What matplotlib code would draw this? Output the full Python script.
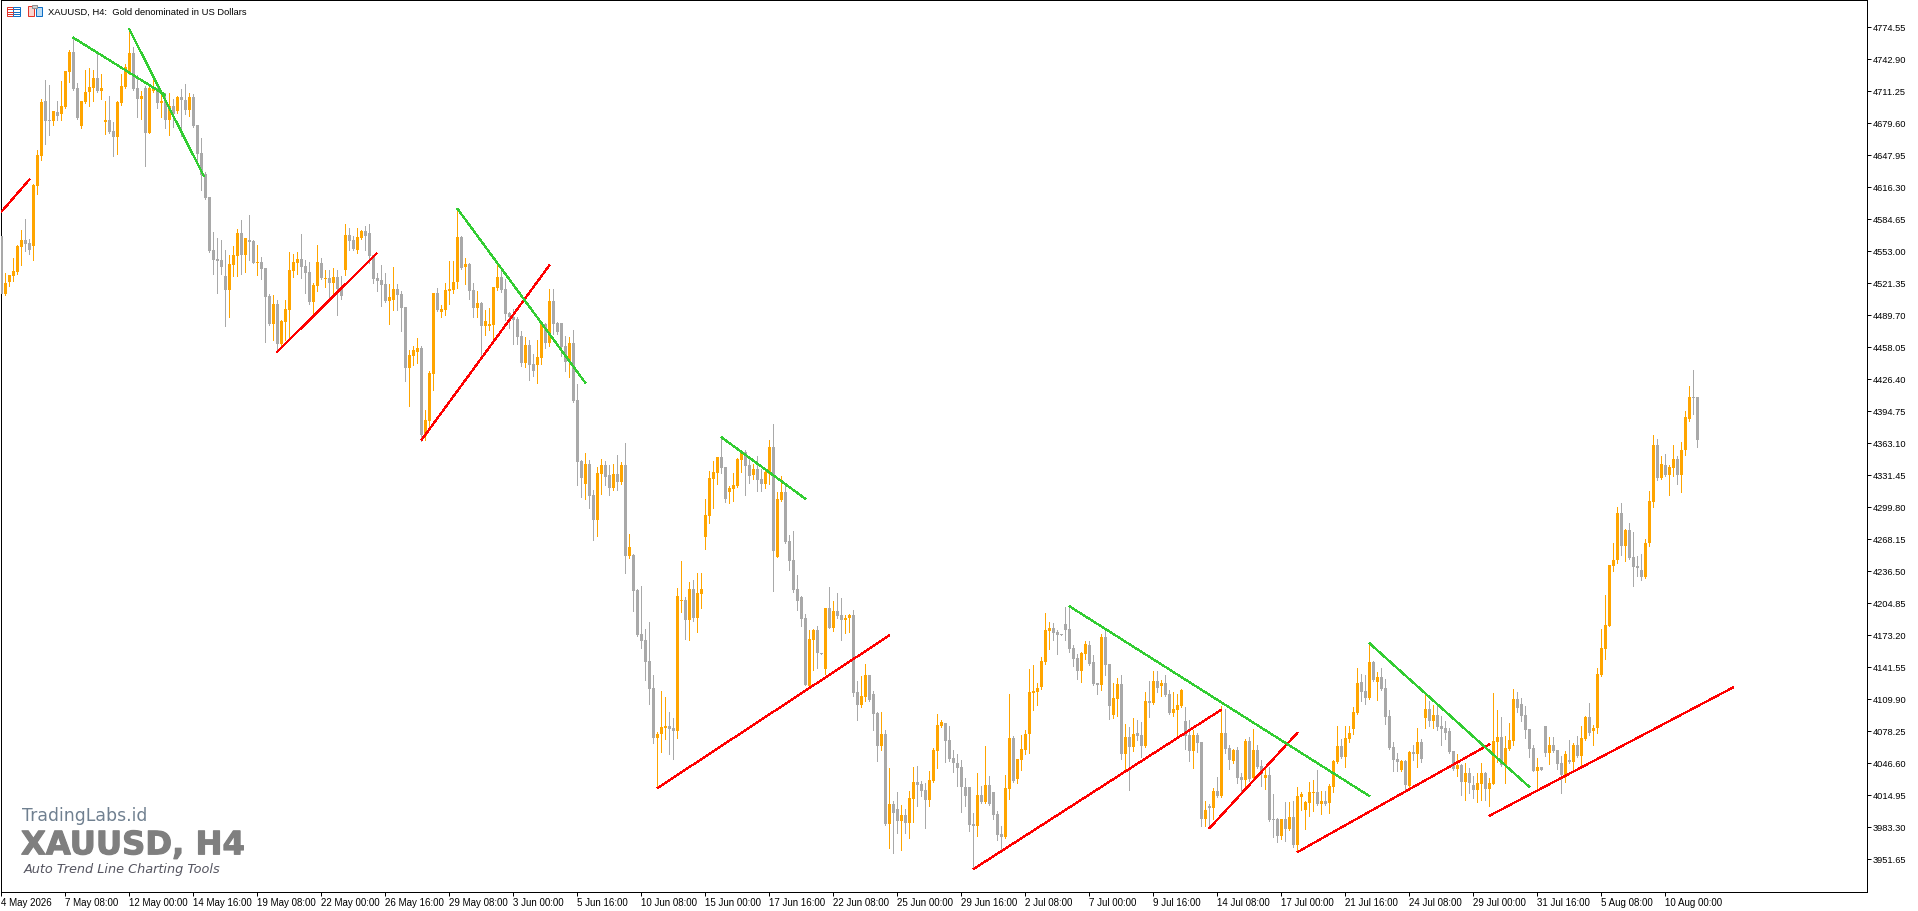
import numpy as np
import matplotlib
matplotlib.use('Agg')
import matplotlib.pyplot as plt
from matplotlib.patches import Rectangle
import matplotlib.patheffects as pe

# candles, 4 hour bars
opens = [4569,4511,4523,4529,4533,4558,4565,4562,4559,4618,
4648,4702,4684,4683,4691,4689,4696,4731,4751,4715,
4678,4701,4711,4715,4725,4712,4682,4684,4673,4667,
4700,4716,4731,4750,4715,4704,4715,4671,4712,4715,
4700,4702,4684,4697,4692,4706,4703,4693,4706,4679,
4651,4630,4607,4555,4546,4545,4529,4515,4540,4549,
4572,4550,4565,4564,4542,4543,4537,4509,4482,4502,
4462,4484,4496,4534,4542,4546,4539,4533,4504,4519,
4542,4526,4527,4522,4528,4517,4535,4570,4565,4555,
4567,4574,4572,4550,4527,4525,4521,4505,4506,4516,
4511,4499,4438,4450,4454,4458,4371,4386,4432,4512,
4494,4496,4514,4515,4523,4568,4538,4541,4515,4498,
4503,4480,4480,4481,4517,4528,4516,4493,4489,4487,
4470,4443,4461,4442,4441,4448,4482,4463,4505,4483,
4483,4460,4444,4463,4407,4346,4324,4343,4313,4288,
4333,4342,4332,4320,4333,4326,4342,4252,4253,4219,
4175,4169,4148,4122,4072,4076,4082,4084,4082,4079,
4208,4209,4189,4220,4191,4215,4271,4292,4328,4334,
4350,4340,4316,4319,4322,4347,4355,4342,4332,4338,
4328,4324,4333,4360,4251,4308,4316,4267,4248,4220,
4212,4191,4124,4169,4179,4156,4141,4201,4181,4198,
4194,4189,4191,4194,4118,4105,4113,4135,4116,4097,
4064,4076,3987,4007,4002,3990,3996,3988,4012,4029,
4027,4021,4011,4030,4059,4084,4087,4070,4053,4048,
4044,4024,4024,3987,3985,4016,4009,4026,4019,3997,
3977,3974,4022,4072,4032,4051,4060,4076,4117,4118,
4123,4147,4178,4181,4177,4175,4185,4180,4161,4151,
4139,4155,4164,4147,4127,4125,4172,4146,4095,4111,
4126,4056,4073,4063,4077,4075,4064,4109,4107,4129,
4124,4127,4116,4097,4100,4104,4089,4075,4059,4075,
4068,3992,4005,4003,4020,4015,4077,4062,4050,4060,
4034,4031,4069,4033,4060,4045,4033,4036,3992,3992,
3975,3992,3982,3994,3966,4014,4001,4008,4018,4019,
4007,4010,4008,4024,4049,4064,4054,4071,4081,4097,
4128,4119,4112,4147,4128,4133,4122,4094,4063,4052,
4041,4050,4025,4058,4056,4068,4092,4101,4089,4095,
4084,4082,4079,4059,4042,4046,4029,4038,4026,4021,
4027,4038,4022,4027,4068,4073,4045,4061,4069,4111,
4106,4095,4081,4062,4040,4044,4084,4057,4065,4060,
4048,4036,4051,4049,4065,4055,4071,4093,4079,4082,
4135,4160,4183,4242,4248,4295,4262,4278,4251,4242,
4238,4232,4265,4306,4362,4329,4342,4332,4339,4348,
4332,4357,4388,4410,4410]

closes = [4511,4522,4530,4534,4559,4565,4561,4555,4619,4649,
4701,4683,4683,4692,4688,4697,4732,4751,4714,4686,
4702,4711,4716,4725,4712,4715,4684,4672,4667,4701,
4717,4736,4750,4714,4704,4707,4671,4715,4715,4700,
4702,4684,4697,4689,4706,4703,4693,4706,4678,4650,
4629,4606,4554,4545,4544,4538,4515,4541,4550,4572,
4550,4567,4563,4542,4543,4536,4508,4482,4502,4462,
4485,4497,4535,4543,4546,4538,4532,4504,4520,4543,
4527,4527,4522,4528,4516,4509,4570,4564,4556,4568,
4574,4569,4549,4526,4524,4520,4505,4508,4516,4510,
4498,4438,4451,4456,4458,4372,4387,4433,4512,4496,
4497,4515,4516,4523,4568,4537,4541,4514,4498,4503,
4480,4485,4482,4518,4528,4515,4492,4489,4486,4469,
4443,4461,4441,4435,4449,4483,4463,4505,4482,4474,
4459,4444,4463,4406,4345,4329,4343,4312,4288,4334,
4342,4330,4320,4333,4326,4342,4252,4261,4218,4174,
4168,4147,4121,4072,4076,4083,4084,4081,4079,4213,
4209,4189,4220,4191,4216,4220,4293,4329,4335,4350,
4339,4309,4320,4323,4348,4355,4341,4331,4338,4327,
4324,4335,4360,4257,4309,4316,4266,4247,4219,4208,
4190,4125,4170,4179,4156,4155,4201,4181,4198,4193,
4189,4191,4194,4117,4105,4114,4135,4110,4096,4064,
4076,3987,4007,3998,3990,3996,3988,4013,4029,4026,
4020,4011,4031,4060,4085,4088,4069,4052,4048,4043,
4024,4015,3986,3985,4016,4009,4026,4007,3996,3976,
3974,4023,4072,4030,4052,4061,4076,4118,4119,4122,
4148,4179,4181,4176,4174,4174,4179,4160,4150,4139,
4156,4165,4146,4126,4125,4172,4145,4104,4112,4126,
4056,4073,4063,4076,4074,4064,4109,4107,4129,4122,
4127,4115,4097,4101,4105,4120,4074,4059,4075,4067,
3992,4001,4003,4020,4015,4077,4061,4051,4060,4033,
4031,4069,4032,4060,4044,4037,4036,3991,3991,3975,
3992,3982,3994,3966,4015,4017,4009,4019,4019,4007,
4010,4007,4025,4050,4064,4054,4072,4077,4098,4127,
4118,4112,4147,4130,4133,4121,4093,4062,4051,4049,
4050,4026,4058,4056,4068,4052,4101,4089,4095,4083,
4081,4077,4058,4042,4046,4029,4038,4028,4021,4028,
4038,4022,4028,4069,4073,4046,4062,4070,4111,4102,
4094,4080,4061,4040,4044,4041,4057,4065,4059,4047,
4036,4056,4049,4065,4055,4072,4093,4077,4082,4136,
4161,4184,4243,4248,4295,4262,4278,4250,4241,4240,
4232,4265,4307,4362,4329,4343,4332,4340,4348,4332,
4357,4390,4410,4409,4367]

highs = [4569,4532,4530,4547,4560,4575,4586,4566,4620,4654,
4704,4723,4718,4692,4702,4722,4732,4753,4765,4720,
4702,4733,4735,4733,4750,4729,4702,4707,4682,4702,
4729,4739,4773,4756,4728,4712,4717,4717,4727,4716,
4713,4710,4710,4704,4707,4714,4719,4710,4709,4679,
4666,4632,4607,4573,4567,4565,4555,4550,4559,4576,
4585,4567,4590,4565,4560,4548,4537,4511,4510,4506,
4486,4506,4553,4551,4553,4571,4545,4543,4522,4560,
4547,4535,4535,4537,4535,4529,4581,4577,4569,4577,
4575,4579,4581,4550,4532,4540,4532,4521,4538,4521,
4514,4499,4456,4460,4468,4460,4397,4435,4512,4517,
4501,4522,4544,4544,4595,4569,4547,4542,4522,4514,
4504,4496,4498,4518,4541,4535,4526,4494,4497,4489,
4475,4469,4466,4452,4466,4484,4483,4516,4516,4484,
4483,4470,4469,4476,4422,4347,4354,4347,4318,4340,
4348,4346,4342,4343,4352,4345,4364,4274,4254,4220,
4223,4180,4187,4135,4078,4119,4113,4098,4092,4221,
4247,4212,4227,4229,4236,4236,4309,4336,4346,4350,
4370,4340,4322,4334,4349,4357,4357,4348,4343,4351,
4338,4339,4367,4383,4316,4331,4324,4273,4277,4234,
4213,4195,4179,4180,4183,4156,4201,4222,4208,4216,
4211,4194,4195,4199,4129,4134,4146,4135,4119,4098,
4098,4080,4043,4010,4019,4006,4002,4020,4044,4045,
4030,4028,4040,4062,4096,4090,4087,4084,4060,4056,
4051,4033,4024,3998,4038,4025,4064,4035,4019,4000,
3985,4036,4116,4074,4052,4075,4080,4141,4145,4127,
4152,4196,4187,4186,4179,4175,4202,4202,4164,4155,
4157,4168,4168,4154,4127,4175,4181,4146,4127,4132,
4135,4086,4083,4092,4090,4088,4118,4129,4139,4139,
4130,4135,4120,4118,4116,4121,4103,4090,4080,4077,
4068,4010,4007,4023,4034,4104,4101,4065,4061,4063,
4038,4071,4073,4081,4065,4051,4045,4044,4017,3993,
3992,4009,4009,4010,4024,4019,4010,4029,4031,4041,
4020,4020,4027,4051,4084,4071,4084,4084,4103,4142,
4136,4135,4166,4148,4138,4142,4131,4100,4068,4057,
4051,4051,4059,4065,4082,4071,4117,4109,4105,4106,
4094,4089,4082,4059,4056,4047,4048,4043,4035,4038,
4048,4039,4033,4117,4100,4093,4074,4087,4121,4118,
4112,4104,4081,4065,4053,4044,4084,4073,4073,4060,
4055,4059,4070,4067,4074,4084,4094,4107,4085,4142,
4180,4214,4243,4265,4301,4305,4279,4285,4276,4252,
4254,4269,4317,4372,4368,4351,4353,4342,4362,4351,
4365,4396,4420,4436,4410]

lows = [4511,4510,4519,4524,4531,4540,4554,4551,4545,4610,
4644,4660,4669,4679,4684,4684,4695,4721,4713,4685,
4676,4700,4697,4702,4711,4704,4670,4671,4648,4650,
4698,4715,4729,4713,4687,4685,4638,4671,4711,4695,
4687,4676,4669,4677,4690,4668,4689,4688,4677,4644,
4614,4605,4553,4531,4512,4531,4480,4489,4529,4529,
4531,4533,4545,4542,4530,4526,4464,4481,4466,4454,
4461,4466,4466,4528,4531,4527,4512,4502,4489,4514,
4526,4518,4506,4509,4491,4507,4530,4555,4555,4552,
4566,4555,4542,4522,4514,4500,4504,4482,4496,4496,
4475,4425,4401,4441,4443,4366,4367,4377,4417,4495,
4489,4491,4502,4512,4517,4536,4521,4507,4489,4489,
4450,4471,4476,4465,4515,4513,4486,4478,4462,4462,
4440,4439,4426,4430,4423,4442,4458,4460,4472,4472,
4450,4435,4429,4405,4323,4311,4309,4300,4268,4272,
4314,4323,4313,4318,4318,4324,4236,4250,4198,4173,
4161,4130,4106,4067,4023,4058,4071,4056,4052,4072,
4197,4170,4169,4188,4177,4201,4259,4285,4300,4324,
4334,4306,4305,4307,4321,4335,4313,4325,4328,4317,
4317,4320,4324,4218,4251,4307,4265,4238,4217,4199,
4183,4125,4122,4140,4142,4155,4136,4181,4178,4191,
4169,4176,4177,4114,4090,4103,4109,4109,4080,4050,
4060,3986,3964,3959,3978,3962,3978,3973,3989,4005,
4015,3983,4005,4029,4043,4083,4049,4050,4039,4025,
3999,4005,3980,3943,3975,4008,4008,4006,3992,3971,
3961,3973,4012,4029,4028,4041,4056,4057,4100,4105,
4121,4146,4160,4169,4155,4174,4169,4157,4144,4131,
4128,4150,4145,4125,4116,4120,4135,4091,4092,4094,
4052,4040,4021,4059,4070,4054,4063,4093,4106,4118,
4114,4114,4096,4094,4073,4103,4061,4050,4043,4058,
3985,3985,3983,3992,4014,4014,4057,4042,4048,4028,
4018,4025,4030,4032,4043,4025,4022,3990,3974,3969,
3972,3970,3981,3965,3962,4001,3982,3995,4000,4006,
3997,4006,3998,4019,4048,4053,4044,4068,4076,4096,
4109,4106,4111,4129,4110,4120,4086,4061,4040,4040,
4040,4022,4021,4051,4044,4049,4082,4084,4082,4080,
4065,4071,4057,4041,4035,4016,4011,4018,4013,4009,
4011,4011,4005,4027,4049,4045,4028,4060,4065,4098,
4089,4072,4054,4040,4021,4041,4055,4047,4058,4042,
4018,4029,4048,4042,4054,4046,4070,4075,4065,4077,
4134,4150,4183,4237,4245,4253,4247,4249,4223,4233,
4229,4231,4262,4301,4327,4328,4331,4313,4331,4324,
4316,4352,4386,4393,4360]

# trend lines: (bar, price) start and end
red_lines = [(0.1,4593,7,4624.5), (69,4454.4,93.8,4551.3), (105.1,4367.3,137,4539.7),
             (164.1,4022.9,221.9,4173.5), (243.1,3942.8,304.9,4100), (302.1,3983.3,324,4077.3),
             (324.1,3959.6,372,4066), (372.1,3995.5,433,4122.4)]
green_lines = [(18,4765,40.9,4708.5), (32,4773.5,50.6,4628.4), (114.1,4595.5,146,4423.7),
               (180.1,4369.6,201,4309), (267.1,4202.5,342,4015), (342.1,4165.9,382,4024)]

date_labels = ['4 May 2026','7 May 08:00','12 May 00:00','14 May 16:00','19 May 08:00','22 May 00:00',
               '26 May 16:00','29 May 08:00','3 Jun 00:00','5 Jun 16:00','10 Jun 08:00','15 Jun 00:00',
               '17 Jun 16:00','22 Jun 08:00','25 Jun 00:00','29 Jun 16:00','2 Jul 08:00','7 Jul 00:00',
               '9 Jul 16:00','14 Jul 08:00','17 Jul 00:00','21 Jul 16:00','24 Jul 08:00','29 Jul 00:00',
               '31 Jul 16:00','5 Aug 08:00','10 Aug 00:00']
price_ticks = [3951.65,3983.30,4014.95,4046.60,4078.25,4109.90,4141.55,4173.20,4204.85,4236.50,
               4268.15,4299.80,4331.45,4363.10,4394.75,4426.40,4458.05,4489.70,4521.35,4553.00,
               4584.65,4616.30,4647.95,4679.60,4711.25,4742.90,4774.55]

W, H = 1918, 912
UP = '#FFA500'
DOWN = '#A9A9A9'
plt.rcParams['font.family'] = ['Liberation Sans', 'DejaVu Sans']

fig = plt.figure(figsize=(W/100, H/100), dpi=100, facecolor='white')
ax = fig.add_axes([1.25/W, 1-892.5/H, 1865.25/W, 892/H])

o = np.array(opens)
c = np.array(closes)
hi = np.array(highs)
lo = np.array(lows)
x = np.arange(len(o))
up = c > o
colors = np.where(up, UP, DOWN)

ax.vlines(x, lo, hi, colors=colors, linewidth=0.72, antialiased=False, zorder=2)
ax.bar(x, np.abs(c-o), bottom=np.minimum(o, c), width=0.75, color=colors, linewidth=0,
       antialiased=False, zorder=3)

for l in red_lines:
    ax.plot([l[0], l[2]], [l[1], l[3]], color='#FF0000', lw=0.8, antialiased=False, zorder=4)
for l in green_lines:
    ax.plot([l[0], l[2]], [l[1], l[3]], color='#32CD32', lw=0.8, antialiased=False, zorder=4)

# 32 px for each 31.65 on the price scale
ax.set_xlim(0, 1865.25/4)
ax.set_ylim(4426.40-(892.5-381)*31.65/32, 4426.40+(381-0.5)*31.65/32)

ax.yaxis.tick_right()
# ticks sit one pixel above the candle scale
ax.set_yticks(np.array(price_ticks)+1)
ax.set_yticklabels(['%.2f' % p for p in price_ticks])
ax.set_xticks(np.arange(len(date_labels))*16)
ax.set_xticklabels(date_labels, ha='left')
ax.tick_params(axis='y', length=3.2, width=0.72, pad=1.5, labelsize=6.7)
ax.tick_params(axis='x', length=3.2, width=0.72, pad=1, labelsize=7)
for s in ax.spines.values():
    s.set_linewidth(0.72)


def px(xp, yp):
    return xp/W, 1-yp/H


def box(x0, y0, x1, y1, fc, ec):
    fig.add_artist(Rectangle(px(x0, y1), (x1-x0)/W, (y1-y0)/H, transform=fig.transFigure, fc=fc, ec=ec, lw=0.72))


def dash(x0, x1, yp, col):
    fig.add_artist(plt.Line2D([x0/W, x1/W], [1-yp/H, 1-yp/H], transform=fig.transFigure, color=col, lw=0.72))


# title and the two little toolbar icons
fig.text(*px(47.5, 12), 'XAUUSD, H4:  Gold denominated in US Dollars', fontsize=6.75, va='center', color='black')
box(6.5, 7.5, 13, 16.5, 'white', '#E2342B')
box(13, 7.5, 20, 16.5, 'white', '#0F6FC6')
for yl in [10, 12.5, 15]:
    dash(7.5, 12.5, yl, '#E2342B')
    dash(14, 19.5, yl, '#0F6FC6')
box(27.5, 7, 34, 17, '#FBD6D0', '#E2342B')
box(35.5, 7.5, 41.5, 17, '#BBDCF5', '#0F6FC6')
box(32, 6, 37, 8.5, '#D0D0D0', '#909090')

# watermark
fig.text(*px(21.5, 816.5), 'TradingLabs.id', fontsize=12.4, va='center', color='#708090', family='DejaVu Sans')
fig.text(*px(21, 846.8), 'XAUUSD, H4', fontsize=23.2, va='center', color='#7F7F7F', family='DejaVu Sans', weight='bold',
         path_effects=[pe.withStroke(linewidth=0.8, foreground='#7F7F7F')])
fig.text(*px(24, 870), 'Auto Trend Line Charting Tools', fontsize=9.3, va='center', color='#555560',
         family='DejaVu Sans', style='italic')

fig.savefig('out.png', dpi=100)
